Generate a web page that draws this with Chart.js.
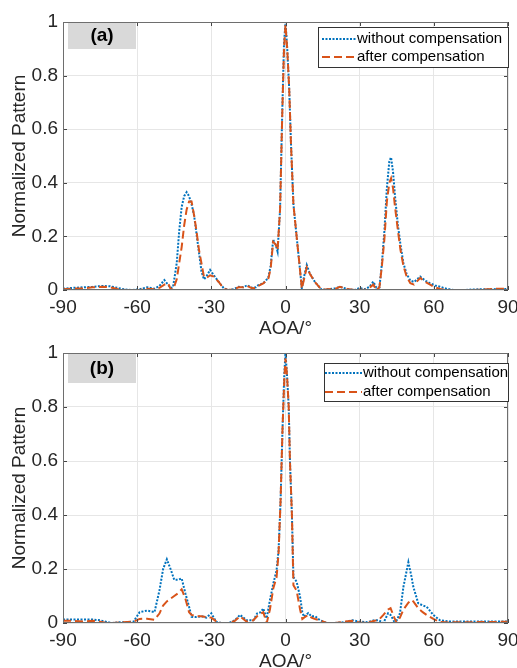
<!DOCTYPE html>
<html>
<head>
<meta charset="utf-8">
<script src="https://cdn.jsdelivr.net/npm/chart.js@4.4.1/dist/chart.umd.min.js"></script>
<style>
  html, body { margin: 0; padding: 0; background: #fff; width: 517px; height: 668px; overflow: hidden; position: relative; }
  .painel { position: absolute; left: 0; width: 517px; height: 345px; }
  #painelA { top: 0; }
  #painelB { top: 330px; }
</style>
</head>
<body>
<div class="painel" id="painelA"><canvas id="graficoA"></canvas></div>
<div class="painel" id="painelB"><canvas id="graficoB"></canvas></div>
<script>
// (a)
const angulosA = [-90,-86,-82,-78,-74,-71,-68,-65,-62,-59,
  -56,-53,-51,-49,-47.5,-46.5,-45.5,-44,-43,-42,
  -41,-40,-39,-38,-37,-36,-35,-34,-33,-32,
  -30.5,-29,-27,-25,-23,-21,-19,-17,-15.5,-13.5,
  -12,-11,-9,-7,-6,-5,-4,-3.2,-2.2,-1.3,
  -0.6,0,0.7,1.5,2.2,3.2,4.5,5.6,6.6,7.5,
  8.6,9.9,11.9,14.7,17,20,22,25,28,30,
  32,34,35.5,36.8,38,39,40,41,42,42.7,
  43.5,44.3,45.5,46.5,47.7,49,50.5,52,54.5,56.5,
  58.5,60.5,62.5,65,68,72,76,80,84,87,90];
const semCompA = [0.005,0.008,0.01,0.012,0.015,0.014,0.008,0.002,0,0.003,
  0.01,0.005,0.015,0.037,0.02,0.008,0.01,0.1,0.22,0.31,
  0.35,0.365,0.35,0.32,0.28,0.21,0.14,0.07,0.04,0.05,
  0.075,0.055,0.03,0.007,0,0.003,0.012,0.01,0.018,0.008,
  0.01,0.018,0.025,0.045,0.09,0.187,0.17,0.143,0.3,0.67,
  0.92,1.0,0.9,0.75,0.55,0.32,0.2,0.1,0.007,0.05,
  0.093,0.06,0.03,0,0.003,0.006,0.012,0.004,0,0.008,
  0.003,0.012,0.031,0.008,0.01,0.1,0.22,0.38,0.48,0.495,
  0.44,0.35,0.24,0.17,0.1,0.06,0.035,0.03,0.05,0.035,
  0.025,0.017,0.012,0.005,0,0,0.002,0.003,0.003,0.004,0.004];
const comCompA = [0.003,0.005,0.006,0.01,0.012,0.01,0.004,0,0,0,
  0.005,0.003,0.008,0.02,0.025,0.005,0,0.04,0.1,0.16,
  0.24,0.3,0.33,0.33,0.28,0.22,0.15,0.1,0.05,0.045,
  0.055,0.05,0.03,0.005,0,0.002,0.01,0.01,0.015,0.007,
  0.008,0.015,0.025,0.04,0.08,0.18,0.17,0.15,0.3,0.66,
  0.9,0.99,0.9,0.75,0.55,0.32,0.2,0.1,0.005,0.04,
  0.085,0.06,0.03,0,0.003,0.004,0.012,0.004,0,0.002,
  0,0.008,0.02,0,0.01,0.09,0.19,0.33,0.4,0.417,
  0.38,0.31,0.22,0.15,0.09,0.05,0.025,0.02,0.045,0.03,
  0.02,0.01,0.004,0,0,0,0,0.002,0.004,0.005,0.005];

// (b)
const angulosB = [-90,-86,-82,-78,-75,-72,-70,-67,-64,-61.5,
  -59,-56,-53,-51,-49.5,-48,-46.5,-45,-43.5,-42,
  -40.5,-39,-38,-36,-34,-32,-30,-28,-26,-23,
  -20.5,-18.4,-15.7,-13,-11.5,-10,-9,-7.6,-6.3,-4.9,
  -3.6,-2.8,-2,-1.2,-0.5,0,0.6,1.3,1.8,2.6,
  3.2,4.5,5.9,6.8,7.5,9.2,10.5,12,14,16.6,
  20,24,27,30,33,36,37.8,39.6,41.5,42.5,
  44,45,46.3,47.7,49.7,51,51.7,53.7,55.5,57.1,
  59.8,62.5,66,70,75,80,85,90];
const semCompB = [0.013,0.013,0.013,0.013,0.01,0.003,0,0.003,0.003,0.005,
  0.04,0.046,0.04,0.12,0.2,0.236,0.2,0.16,0.16,0.165,
  0.11,0.06,0.023,0.022,0.025,0.02,0.036,0.004,0,0,
  0.01,0.03,0.01,0.01,0.035,0.04,0.054,0.017,0.085,0.147,
  0.196,0.27,0.45,0.72,0.92,1.0,0.92,0.8,0.6,0.4,
  0.17,0.153,0.097,0.04,0.023,0.037,0.025,0.025,0.01,0,
  0,0.003,0.01,0.005,0.003,0.01,0.01,0,0.036,0.03,
  0.005,0.01,0.036,0.134,0.225,0.17,0.134,0.073,0.065,0.06,
  0.03,0.01,0.006,0.006,0.006,0.006,0.006,0.006];
const comCompB = [0.008,0.008,0.006,0.008,0.005,0,0,0.002,0.004,0.005,
  0.015,0.016,0.012,0.035,0.065,0.08,0.09,0.1,0.11,0.125,
  0.09,0.04,0.03,0.025,0.025,0.022,0.02,0.006,0,0,
  0.008,0.025,0.005,0.01,0.025,0.035,0.04,0,0.05,0.13,
  0.17,0.26,0.45,0.72,0.9,0.98,0.92,0.8,0.6,0.4,
  0.14,0.12,0.05,0.015,0.02,0.03,0.02,0.015,0.01,0,
  0,0.005,0.008,0.002,0,0.008,0.012,0.03,0.05,0.055,
  0.02,0,0.02,0.05,0.075,0.085,0.08,0.055,0.04,0.03,
  0.015,0.004,0.002,0.003,0.003,0.004,0.004,0.005];

const ticksX = [-90, -60, -30, 0, 30, 60, 90];
const ticksY = [0, 0.2, 0.4, 0.6, 0.8, 1];
const nomesSeries = ["without compensation", "after compensation"];

const FONTE = '"Liberation Sans", Arial, sans-serif';
const AZUL = "#0072BD";
const LARANJA = "#D95319";

Chart.defaults.font.family = FONTE;
Chart.defaults.color = "#262626";

// caixa do eixo, marcas internas, rotulo (a)/(b) e legenda
const moldura = {
  id: "moldura",
  afterDraw(chart, args, opts) {
    const { ctx, chartArea: a, scales } = chart;
    ctx.save();

    ctx.strokeStyle = "#444";
    ctx.lineWidth = 1;
    ctx.beginPath();
    ticksX.forEach(v => {
      const px = Math.round(scales.x.getPixelForValue(v)) + 0.5;
      ctx.moveTo(px, a.bottom); ctx.lineTo(px, a.bottom - 4);
      ctx.moveTo(px, a.top); ctx.lineTo(px, a.top + 4);
    });
    ticksY.forEach(v => {
      const py = Math.round(scales.y.getPixelForValue(v)) + 0.5;
      ctx.moveTo(a.left, py); ctx.lineTo(a.left + 4, py);
      ctx.moveTo(a.right, py); ctx.lineTo(a.right - 4, py);
    });
    ctx.stroke();

    ctx.strokeStyle = "#6e6e6e";
    ctx.strokeRect(Math.round(a.left) + 0.5, Math.round(a.top) + 0.5,
      Math.round(a.width) - 1, Math.round(a.height) - 1);

    // rotulo
    ctx.fillStyle = "#d9d9d9";
    ctx.fillRect(a.left + 5, a.top + 1, 68, opts.rotuloAltura);
    ctx.fillStyle = "#000";
    ctx.font = "bold 19px " + FONTE;
    ctx.textAlign = "center";
    ctx.textBaseline = "middle";
    ctx.fillText(opts.rotulo, a.left + 39, a.top + 1 + opts.rotuloAltura / 2);

    // legenda
    const L = opts.legenda;
    ctx.fillStyle = "#fff";
    ctx.fillRect(L.x, L.y, L.w, L.h);
    ctx.strokeStyle = "#333";
    ctx.strokeRect(L.x + 0.5, L.y + 0.5, L.w - 1, L.h - 1);
    ctx.font = "15px " + FONTE;
    ctx.textAlign = "left";
    ctx.fillStyle = "#000";
    const estilos = [
      { cor: AZUL, dash: [2, 1.5] },
      { cor: LARANJA, dash: [8, 4] }
    ];
    nomesSeries.forEach((nome, i) => {
      const yy = L.linhas[i];
      ctx.strokeStyle = estilos[i].cor;
      ctx.lineWidth = 2;
      ctx.setLineDash(estilos[i].dash);
      ctx.beginPath();
      ctx.moveTo(L.x0, yy); ctx.lineTo(L.x1, yy);
      ctx.stroke();
      ctx.setLineDash([]);
      ctx.fillText(nome, L.x1 + 1, yy);
    });
    ctx.restore();
  }
};

function criarGrafico(id, angulos, semComp, comComp, cfg) {
  const pontos = vals => angulos.map((a, i) => ({ x: a, y: vals[i] }));
  return new Chart(document.getElementById(id), {
    type: "line",
    data: {
      datasets: [
        {
          label: nomesSeries[0],
          data: pontos(semComp),
          borderColor: AZUL,
          borderWidth: 2,
          borderDash: [2, 1.5],
          pointRadius: 0,
          tension: 0,
          order: 1
        },
        {
          label: nomesSeries[1],
          data: pontos(comComp),
          borderColor: LARANJA,
          borderWidth: 2,
          borderDash: [8, 4],
          pointRadius: 0,
          tension: 0,
          order: 0
        }
      ]
    },
    options: {
      responsive: true,
      maintainAspectRatio: false,
      animation: false,
      layout: { padding: { top: cfg.topo, right: 9, left: 0, bottom: 0 } },
      plugins: {
        legend: { display: false },
        tooltip: { enabled: false },
        moldura: cfg.moldura
      },
      scales: {
        x: {
          type: "linear",
          min: -90,
          max: 90,
          afterBuildTicks: s => { s.ticks = ticksX.map(v => ({ value: v })); },
          afterFit: s => { s.height = cfg.alturaX; s.paddingLeft = 0; s.paddingRight = 0; },
          ticks: { font: { size: 19 }, color: "#262626", padding: 6, maxRotation: 0 },
          grid: { color: "#e6e6e6", drawTicks: false },
          border: { display: false },
          title: { display: true, text: "AOA/°", font: { size: 19 }, color: "#262626", padding: { top: 0, bottom: cfg.tituloBaixo } }
        },
        y: {
          min: 0,
          max: 1,
          afterBuildTicks: s => { s.ticks = ticksY.map(v => ({ value: v })); },
          afterFit: s => { s.width = 63; },
          ticks: { font: { size: 19 }, color: "#262626", padding: 5, callback: v => String(Number(v.toFixed(1))) },
          grid: { color: "#e6e6e6", drawTicks: false },
          border: { display: false },
          title: { display: true, text: "Normalized Pattern", font: { size: 19 }, color: "#262626", padding: { top: 8, bottom: 0 } }
        }
      }
    },
    plugins: [moldura]
  });
}

criarGrafico("graficoA", angulosA, semCompA, comCompA, {
  topo: 22,
  alturaX: 55,
  tituloBaixo: 5,
  moldura: {
    rotulo: "(a)",
    rotuloAltura: 26,
    legenda: { x: 318, y: 27, w: 191, h: 41, x0: 322, x1: 356, linhas: [39, 57] }
  }
});

criarGrafico("graficoB", angulosB, semCompB, comCompB, {
  topo: 23,
  alturaX: 52,
  tituloBaixo: 2,
  moldura: {
    rotulo: "(b)",
    rotuloAltura: 29,
    legenda: { x: 324, y: 33, w: 185, h: 39, x0: 325, x1: 362, linhas: [43, 62] }
  }
});
</script>
</body>
</html>
